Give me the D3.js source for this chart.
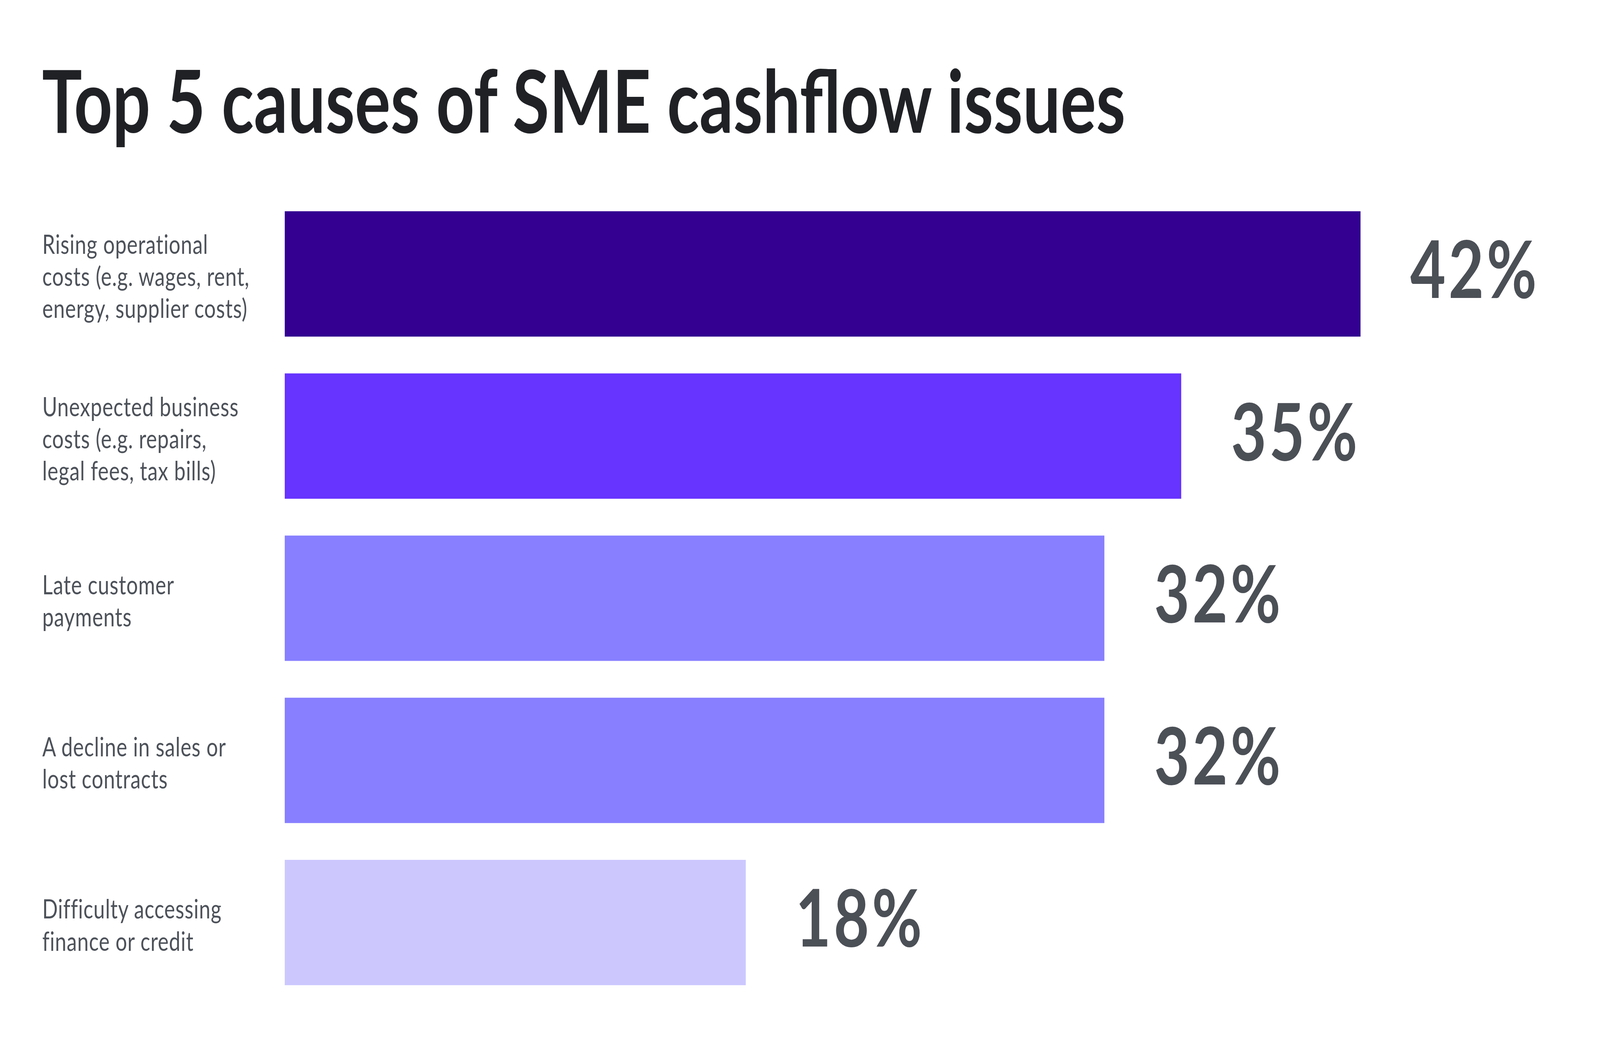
<!DOCTYPE html>
<html>
<head>
<meta charset="utf-8">
<script src="https://cdn.jsdelivr.net/npm/d3@7"></script>
<style>
  html, body { margin: 0; padding: 0; background: #ffffff; overflow: hidden; }
  svg { display: block; }
</style>
</head>
<body>
<div id="chart"></div>
<script>
// chart data
const categories = [
    "Rising operational costs (e.g. wages, rent, energy, supplier costs)",
    "Unexpected business costs (e.g. repairs, legal fees, tax bills)",
    "Late customer payments",
    "A decline in sales or lost contracts",
    "Difficulty accessing finance or credit"
];
// line breaks as they appear in the picture
const labelLines = [
    ["Rising operational", "costs (e.g. wages, rent,", "energy, supplier costs)"],
    ["Unexpected business", "costs (e.g. repairs,", "legal fees, tax bills)"],
    ["Late customer", "payments"],
    ["A decline in sales or", "lost contracts"],
    ["Difficulty accessing", "finance or credit"]
];
const values = [42, 35, 32, 32, 18];
const valueLabels = ["42%", "35%", "32%", "32%", "18%"];
const titleText = "Top 5 causes of SME cashflow issues";

// styles
const barColors = ["#330091", "#6633ff", "#877fff", "#877fff", "#ccc8fe"];
const width = 5338, height = 2671;

// the drawing space is 5338x2671; stretch it over the whole window
let svg = d3.select("#chart")
    .append("svg")
    .attr("viewBox", "0 0 " + width + " " + height)
    .attr("preserveAspectRatio", "none")
    .style("width", "100vw")
    .style("height", "100vh");

svg.append("rect")
    .attr("width", width)
    .attr("height", height)
    .attr("fill", "#ffffff");

// title
svg.append("text")
    .attr("x", 140)
    .attr("y", 340)
    .style("font-family", "Lato, 'Liberation Sans', sans-serif")
    .style("font-weight", 700)
    .style("font-size", "223px")
    .attr("fill", "#1f2125")
    .text(titleText);

let x = d3.scaleLinear()
    .domain([0, 42])
    .range([950, 4539]);

let y = d3.scaleBand()
    .domain(categories)
    .range([541, 2523])
    .paddingInner(0.227)
    .paddingOuter(0);

let color = d3.scaleOrdinal()
    .domain(categories)
    .range(barColors);

let rows = categories.map(function(c, i) {
    return { cat: c, lines: labelLines[i], value: values[i], label: valueLabels[i] };
});

// bars
svg.append("g").selectAll("rect")
    .data(rows)
    .enter()
    .append("rect")
    .attr("x", x(0))
    .attr("y", function(d) { return y(d.cat); })
    .attr("width", function(d) { return x(d.value) - x(0); })
    .attr("height", y.bandwidth())
    .attr("fill", function(d) { return color(d.cat); });

// value labels
svg.append("g").selectAll("text")
    .data(rows)
    .enter()
    .append("text")
    .attr("x", function(d) { return x(d.value) + 166; })
    .attr("y", function(d) { return y(d.cat) + y.bandwidth() / 2 + 62; })
    .style("font-family", "Lato, 'Liberation Sans', sans-serif")
    .style("font-weight", 700)
    .style("font-size", "204px")
    .style("letter-spacing", "9px")
    .attr("fill", "#4b4f56")
    .text(function(d) { return d.label; });

// category labels (left)
let lineHeight = 82;
let catLabels = svg.append("g").selectAll("text")
    .data(rows)
    .enter()
    .append("text")
    .attr("x", 141)
    .attr("y", function(d) {
        return y(d.cat) + y.bandwidth() / 2 - (d.lines.length - 1) / 2 * lineHeight + 31;
    })
    .style("font-family", "Lato, 'Liberation Sans', sans-serif")
    .style("font-weight", 400)
    .style("font-size", "68px")
    .style("letter-spacing", "1.2px")
    .attr("fill", "#4d525a");

catLabels.selectAll("tspan")
    .data(function(d) { return d.lines; })
    .enter()
    .append("tspan")
    .attr("x", 141)
    .attr("dy", function(d, i) { return i === 0 ? 0 : lineHeight; })
    .text(function(d) { return d; });
</script>
</body>
</html>
